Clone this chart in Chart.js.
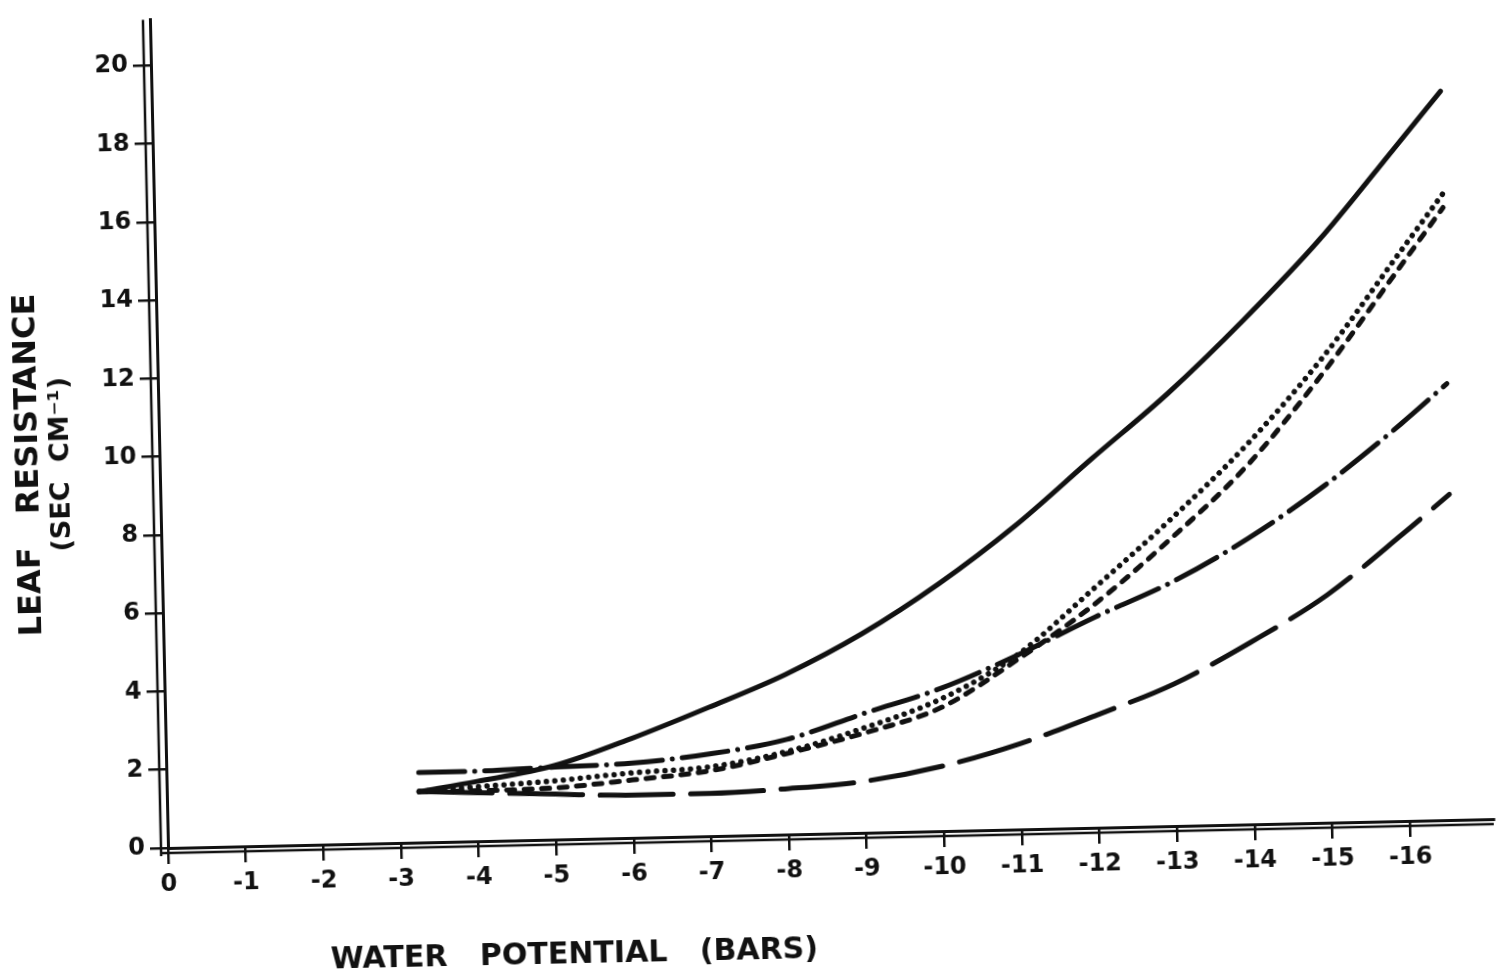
<!DOCTYPE html>
<html>
<head>
<meta charset="utf-8">
<script src="https://cdn.jsdelivr.net/npm/chart.js@4.4.1/dist/chart.umd.min.js"></script>
<style>
html, body { margin:0; padding:0; background:#fff; overflow:hidden; }
#wrap { position:absolute; left:0; top:0; width:1501px; height:979px; overflow:hidden; background:#fff; }
#c { position:absolute; left:0; top:0; transform-origin:168px 848px; transform:rotate(-1.25deg); }
</style>
</head>
<body>
<div id="wrap"><canvas id="c" width="1501" height="1010"></canvas></div>
<script>
// ---- tick labels ----
const xTickValues = [0,-1,-2,-3,-4,-5,-6,-7,-8,-9,-10,-11,-12,-13,-14,-15,-16];
const xTickLabels = ['0','-1','-2','-3','-4','-5','-6','-7','-8','-9','-10','-11','-12','-13','-14','-15','-16'];
const yTickValues = [0,2,4,6,8,10,12,14,16,18,20];
const yTickLabels = ['0','2','4','6','8','10','12','14','16','18','20'];

// ---- axis titles ----
const xTitle = 'WATER POTENTIAL (BARS)';
const yTitleLine1 = 'LEAF RESISTANCE';
const yTitleLine2 = '(SEC CM\u207B\u00B9)';

// ---- series (water potential, bars ; leaf resistance, sec cm-1) ----
const potentialX = [-3.25,-4,-5,-6,-7,-8,-9,-10,-11,-12,-13,-14,-15,-16,-16.6];
const solidY     = [1.30,1.53,1.89,2.54,3.29,4.09,5.09,6.32,7.76,9.42,11.05,12.89,14.90,17.22,18.62];
const dottedY    = [1.30,1.39,1.50,1.66,1.77,2.12,2.68,3.38,4.47,6.12,7.83,9.69,11.87,14.45,16.00];
const dashedY    = [1.30,1.29,1.32,1.48,1.67,2.07,2.55,3.16,4.35,5.71,7.34,9.16,11.47,14.08,15.65];
const longDashY  = [1.30,1.24,1.16,1.09,1.09,1.17,1.32,1.66,2.19,2.88,3.63,4.65,5.82,7.35,8.32];
const dashDotX   = [-3.25,-4,-4.5,-5,-6,-7,-8,-9,-10,-11,-12,-13,-14,-15,-16,-16.6];
const dashDotY   = [1.79,1.79,1.82,1.85,1.91,2.10,2.43,3.05,3.65,4.46,5.38,6.23,7.31,8.62,10.15,11.15];

const INK = '#111';
const FONT = '"DejaVu Sans", "Liberation Sans", sans-serif';

function pts(xs, ys) { return xs.map((x, i) => ({ x: x, y: ys[i] })); }
function line(label, xs, ys, dash, width) {
  return {
    label: label, data: pts(xs, ys), borderColor: INK, borderWidth: width,
    borderDash: dash, borderCapStyle: 'round', borderJoinStyle: 'round',
    pointRadius: 0, fill: false, cubicInterpolationMode: 'monotone'
  };
}

const doubleAxis = {
  id: 'doubleAxis',
  afterDraw(chart) {
    const { ctx, chartArea: a } = chart;
    ctx.save();
    ctx.strokeStyle = INK;
    ctx.lineWidth = 2.5;
    ctx.beginPath();
    ctx.moveTo(a.left - 7, a.top);
    ctx.lineTo(a.left - 7, a.bottom + 8);
    ctx.moveTo(a.left - 7, a.bottom + 5);
    ctx.lineTo(a.right, a.bottom + 5);
    ctx.stroke();
    ctx.restore();
  }
};

const axisTitles = {
  id: 'axisTitles',
  afterDraw(chart) {
    const ctx = chart.ctx;
    ctx.save();
    ctx.fillStyle = INK;
    ctx.textAlign = 'center';
    ctx.textBaseline = 'middle';
    ctx.font = 'bold 30px ' + FONT;
    try { ctx.wordSpacing = '22px'; } catch (e) {}
    ctx.fillText(xTitle, 572, 964);
    ctx.save();
    ctx.font = 'bold 32px ' + FONT;
    ctx.translate(38, 462);
    ctx.rotate(-Math.PI / 2);
    ctx.fillText(yTitleLine1, 0, 0);
    ctx.restore();
    ctx.save();
    try { ctx.wordSpacing = '10px'; } catch (e) {}
    ctx.font = 'bold 27px ' + FONT;
    ctx.translate(70, 462);
    ctx.rotate(-Math.PI / 2);
    ctx.fillText(yTitleLine2, 0, 0);
    ctx.restore();
    ctx.restore();
  }
};

new Chart(document.getElementById('c'), {
  type: 'line',
  data: {
    datasets: [
      line('solid', potentialX, solidY, [], 5),
      line('dotted', potentialX, dottedY, [0.01, 8.5], 5.5),
      line('dashed', potentialX, dashedY, [8, 9.5], 5),
      line('dash-dot', dashDotX, dashDotY, [46, 10, 0.01, 10], 5),
      line('long dash', potentialX, longDashY, [73, 17.5], 5)
    ]
  },
  options: {
    responsive: false,
    animation: false,
    devicePixelRatio: 1,
    layout: { padding: { top: 12, right: 7, left: 0, bottom: 0 } },
    plugins: { legend: { display: false }, tooltip: { enabled: false }, title: { display: false } },
    scales: {
      x: {
        type: 'linear', min: -17.08, max: 0, reverse: true,
        afterBuildTicks: s => { s.ticks = xTickValues.map(v => ({ value: v })); },
        afterFit: s => { s.height = 1010 - 848; },
        ticks: {
          autoSkip: false, maxRotation: 0, padding: 6, color: INK,
          font: { family: FONT, weight: 'bold', size: 24 },
          callback: v => xTickLabels[xTickValues.indexOf(v)]
        },
        grid: { drawOnChartArea: false, drawTicks: true, tickLength: 16, color: INK, lineWidth: 2.5 },
        border: { display: true, color: INK, width: 3 }
      },
      y: {
        type: 'linear', min: 0, max: 21.17,
        afterBuildTicks: s => { s.ticks = yTickValues.map(v => ({ value: v })); },
        afterFit: s => { s.width = 168; },
        ticks: {
          autoSkip: false, padding: 5, color: INK,
          font: { family: FONT, weight: 'bold', size: 24 },
          callback: v => yTickLabels[yTickValues.indexOf(v)]
        },
        grid: { drawOnChartArea: false, drawTicks: true, tickLength: 18, color: INK, lineWidth: 2.5 },
        border: { display: true, color: INK, width: 3 }
      }
    }
  },
  plugins: [doubleAxis, axisTitles]
});
</script>
</body>
</html>
